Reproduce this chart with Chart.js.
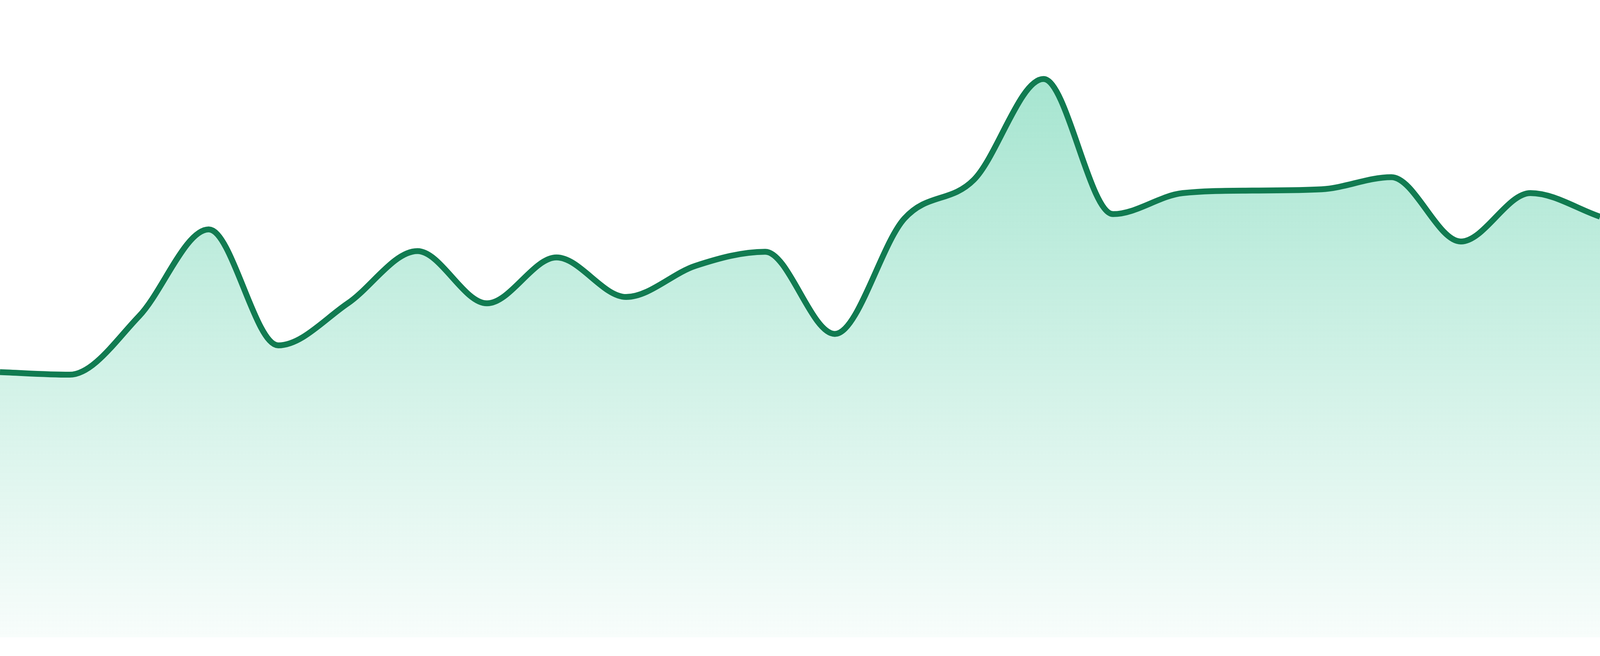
<!DOCTYPE html>
<html>
<head>
<meta charset="utf-8">
<style>
  html, body { margin: 0; padding: 0; background: #ffffff; overflow: hidden; }
  #wrap { width: 100vw; height: 100vh; position: relative; }
</style>
<script src="https://cdn.jsdelivr.net/npm/chart.js@4"></script>
</head>
<body>
<div id="wrap"><canvas id="c"></canvas></div>
<script>
const labels = ["1","2","3","4","5","6","7","8","9","10","11","12","13","14","15","16","17","18","19","20","21","22","23","24"];
const values = [41.6, 41.2, 50.4, 64.0, 45.8, 52.4, 60.6, 52.4, 59.6, 53.4, 58.3, 60.5, 47.6, 65.7, 71.8, 87.6, 66.4, 69.7, 70.1, 70.3, 72.2, 62.1, 69.7, 66.0];
const yMin = 0;
const yMax = 100;

const lineColor = '#117b51';
// vertical scale from the 1680px-high reference to this viewport
const fy = window.innerHeight / 1680;

function areaGradient(context) {
  const chart = context.chart;
  const area = chart.chartArea;
  if (!area) return 'rgba(16,185,129,0.2)';
  const g = chart.ctx.createLinearGradient(0, area.top, 0, area.bottom);
  g.addColorStop(0, 'rgba(16,185,129,0.42)');
  g.addColorStop(1, 'rgba(16,185,129,0.03)');
  return g;
}

new Chart(document.getElementById('c'), {
  type: 'line',
  data: {
    labels: labels,
    datasets: [{
      data: values,
      borderColor: lineColor,
      borderWidth: 15 * fy,
      tension: 0.4,
      cubicInterpolationMode: 'monotone',
      fill: 'origin',
      backgroundColor: areaGradient,
      pointRadius: 0,
      pointHoverRadius: 0
    }]
  },
  options: {
    responsive: true,
    maintainAspectRatio: false,
    animation: false,
    layout: { padding: { top: 0, right: 0, bottom: 48 * fy, left: 0 } },
    plugins: { legend: { display: false }, tooltip: { enabled: false } },
    scales: {
      x: { display: false, offset: false },
      y: { display: false, min: yMin, max: yMax }
    }
  }
});
</script>
</body>
</html>
